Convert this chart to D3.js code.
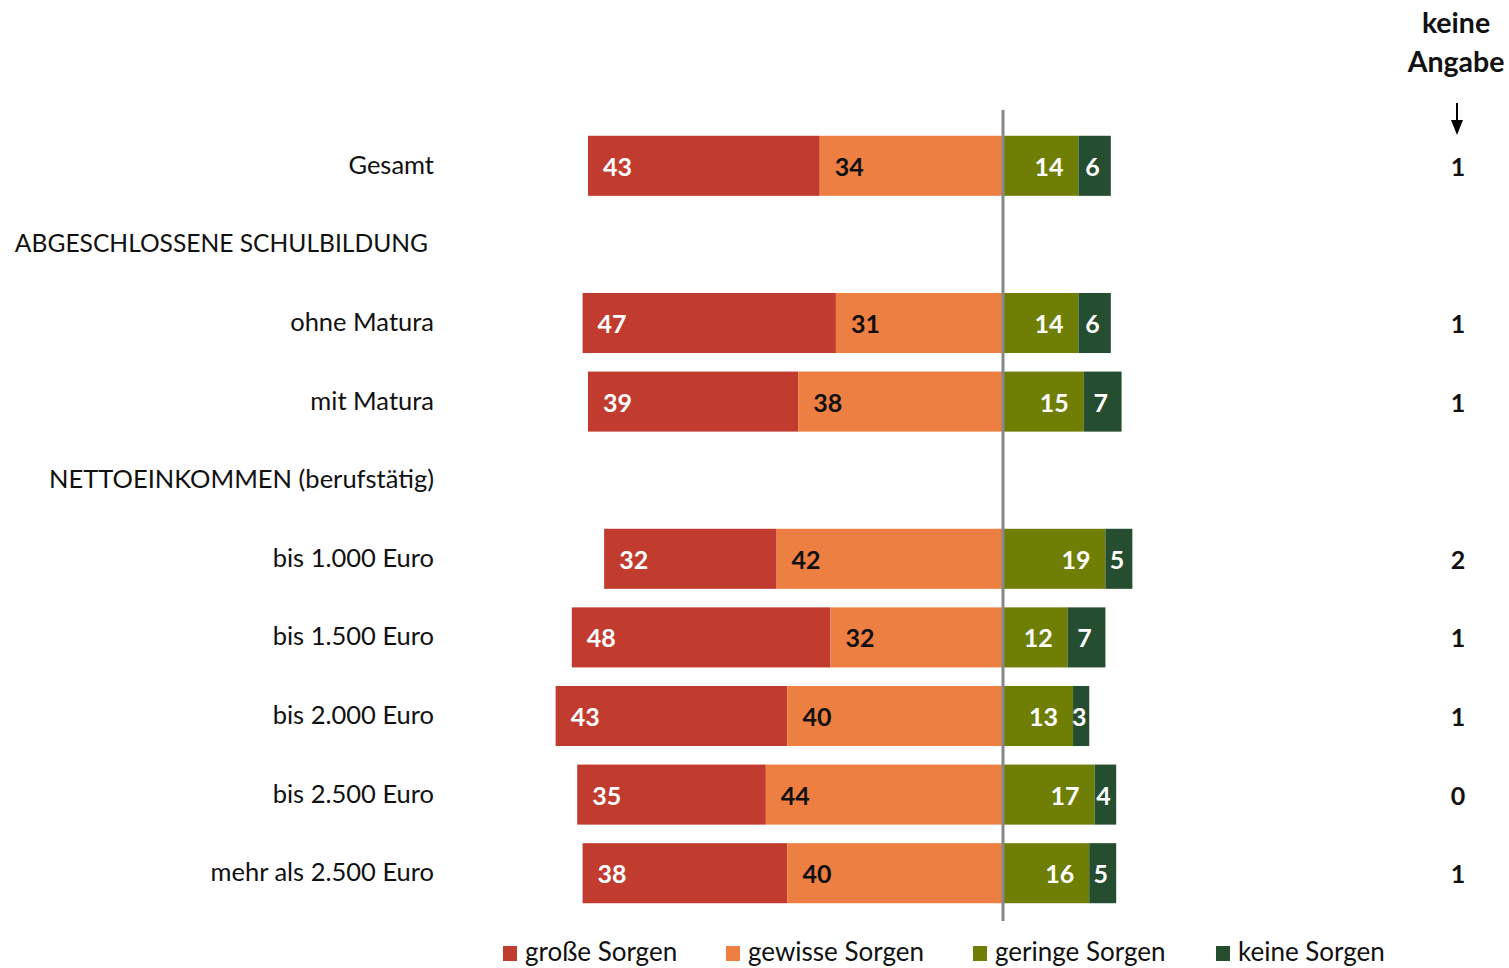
<!DOCTYPE html>
<html><head><meta charset="utf-8">
<script src="https://cdn.jsdelivr.net/npm/d3@7"></script>
<style>
html,body{margin:0;padding:0;background:#fff;}
svg{display:block;font-family:Lato, "Open Sans", sans-serif;}
</style></head>
<body>
<svg id="chart" width="1509" height="968"></svg>
<script>
// Data
const rows = ["Gesamt","ABGESCHLOSSENE SCHULBILDUNG","ohne Matura","mit Matura","NETTOEINKOMMEN (berufstätig)","bis 1.000 Euro","bis 1.500 Euro","bis 2.000 Euro","bis 2.500 Euro","mehr als 2.500 Euro"];
const headers = ["ABGESCHLOSSENE SCHULBILDUNG","NETTOEINKOMMEN (berufstätig)"];
const categories = ["Gesamt","ohne Matura","mit Matura","bis 1.000 Euro","bis 1.500 Euro","bis 2.000 Euro","bis 2.500 Euro","mehr als 2.500 Euro"];
const grosse  = [43,47,39,32,48,43,35,38];
const gewisse = [34,31,38,42,32,40,44,40];
const geringe = [14,14,15,19,12,13,17,16];
const keine   = [6,6,7,5,7,3,4,5];
const keineAngabe = [1,1,1,2,1,1,0,1];
const seriesNames = ["große Sorgen","gewisse Sorgen","geringe Sorgen","keine Sorgen"];
const colors = ["#C23B2F","#EE7F42","#6F7F06","#254D2F"];

const svg = d3.select("#chart");
const cx = 1003;
const x = d3.scaleLinear().domain([-100,100]).range([cx-539, cx+539]);
const y = d3.scaleBand().domain(rows).range([126.5, 912.5]).paddingInner(0.236).paddingOuter(0.118);
const bh = y.bandwidth();
const yc = r => y(r) + bh/2;

const data = categories.map((c,i)=>({c, v:[grosse[i],gewisse[i],geringe[i],keine[i]], ka:keineAngabe[i]}));

const g = svg.append("g");
data.forEach(d=>{
  const segs = [
    {s:0, x0:-(d.v[0]+d.v[1]), x1:-d.v[1], v:d.v[0]},
    {s:1, x0:-d.v[1], x1:0, v:d.v[1]},
    {s:2, x0:0, x1:d.v[2], v:d.v[2]},
    {s:3, x0:d.v[2], x1:d.v[2]+d.v[3], v:d.v[3]}
  ];
  const row = g.append("g");
  row.selectAll("rect").data(segs).join("rect")
    .attr("x", s=>x(s.x0)).attr("width", s=>x(s.x1)-x(s.x0))
    .attr("y", y(d.c)).attr("height", bh)
    .attr("fill", s=>colors[s.s]);
  row.selectAll("text").data(segs).join("text")
    .attr("x", s=> s.s===0||s.s===1 ? x(s.x0)+15 : s.s===2 ? x(s.x1)-15 : (x(s.x0)+x(s.x1))/2 - 2 )
    .attr("text-anchor", s=> s.s<2 ? "start" : s.s===2 ? "end" : "middle")
    .attr("y", yc(d.c)+10)
    .attr("font-size", 25).attr("font-weight", 700)
    .attr("fill", s=> s.s===1 ? "#111" : "#fff")
    .text(s=>s.v);
  // category label
  g.append("text").attr("x",434).attr("y",yc(d.c)+8).attr("text-anchor","end")
    .attr("font-size",25.5).attr("fill","#111").text(d.c);
  // keine Angabe value
  g.append("text").attr("x",1458).attr("y",yc(d.c)+10).attr("text-anchor","middle")
    .attr("font-size",25).attr("font-weight",700).attr("fill","#111").text(d.ka);
});
headers.forEach((h,i)=>{
  g.append("text").attr("x", i===0?428:434).attr("y", yc(h)+8).attr("text-anchor","end")
    .attr("font-size", i===0?24.6:25.5).attr("fill","#111").text(h);
});

// center line
svg.append("line").attr("x1",cx).attr("x2",cx).attr("y1",110).attr("y2",921)
  .attr("stroke","#888").attr("stroke-width",3);

// keine Angabe header
const kh = svg.append("text").attr("text-anchor","middle").attr("font-size",28.5).attr("font-weight",700).attr("fill","#111");
kh.append("tspan").attr("x",1456).attr("y",33).text("keine");
kh.append("tspan").attr("x",1456).attr("y",72).text("Angabe");
svg.append("line").attr("x1",1457).attr("x2",1457).attr("y1",103).attr("y2",122).attr("stroke","#000").attr("stroke-width",2);
svg.append("path").attr("d","M1451,120 L1463,120 L1457,135 Z").attr("fill","#000");

// legend
const legX = [503,726,973,1216];
const leg = svg.append("g");
seriesNames.forEach((n,i)=>{
  leg.append("rect").attr("x",legX[i]).attr("y",946).attr("width",14).attr("height",15).attr("fill",colors[i]);
  leg.append("text").attr("x",legX[i]+22).attr("y",961).attr("font-size",26).attr("fill","#111").text(n);
});
</script>
</body></html>
